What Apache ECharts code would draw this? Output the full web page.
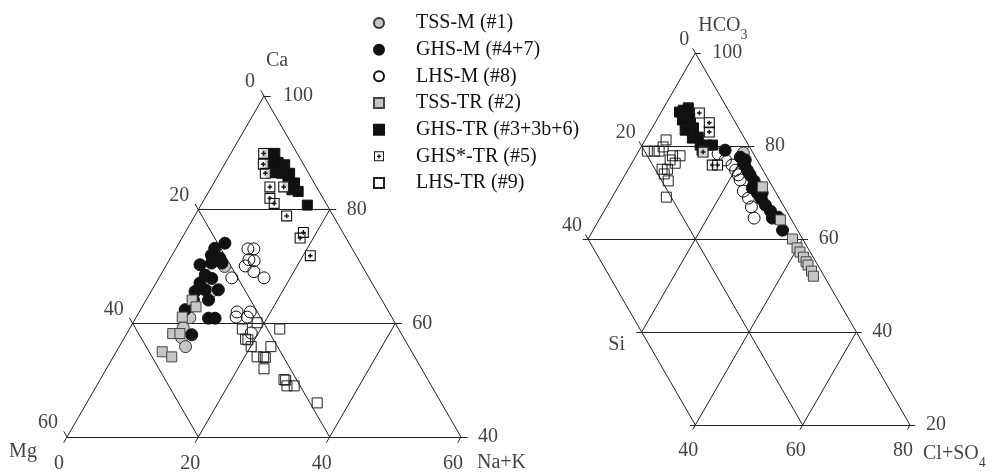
<!DOCTYPE html>
<html><head><meta charset="utf-8">
<script src="https://cdn.jsdelivr.net/npm/echarts@6/dist/echarts.min.js"></script>
<style>html,body{margin:0;padding:0;background:#fff}#c{width:993px;height:474px}</style>
</head><body><div id="c"></div>
<script>
// ---- Left diagram: [Ca, Mg, Na+K] (%) ----
const tssM_L = [[70.0,21.0,9.0],[65.4,25.5,9.1],[61.0,30.8,8.2],[59.2,32.7,8.1],[57.5,33.8,8.7],[55.9,34.0,10.1]];
const ghsM_L = [[74.1,18.9,7.0],[73.2,20.9,5.9],[72.0,22.0,6.0],[71.5,21.0,7.5],[70.3,24.6,5.1],[70.6,22.7,6.7],[70.6,21.1,8.3],[68.5,24.7,6.8],[67.9,24.0,8.1],[67.1,26.2,6.7],[65.9,24.0,10.1],[65.6,27.7,6.7],[65.9,26.0,8.1],[64.1,28.7,7.2],[64.1,26.4,9.5],[62.4,30.8,6.8],[60.9,28.0,11.1],[60.9,27.0,12.1],[58.0,32.0,10.0]];
const lhsM_L = [[73.1,15.9,11.0],[73.1,15.0,11.9],[71.2,16.7,12.1],[71.0,16.0,13.0],[70.1,17.8,12.1],[69.1,17.0,13.9],[68.0,16.0,16.0],[68.0,20.9,11.1],[62.0,23.1,14.9],[62.0,21.1,16.9],[61.1,23.7,15.2],[61.1,22.0,16.9],[58.3,22.8,18.9]];
const tssTR_L = [[64.1,28.9,7.0],[62.9,28.9,8.2],[61.1,31.9,7.0],[58.2,34.8,7.0],[58.2,33.7,8.1],[55.0,38.0,7.0],[54.1,37.0,8.9]];
const ghsTR_L = [[89.9,4.6,5.5],[89.9,3.4,6.7],[88.3,4.9,6.8],[88.3,3.7,8.0],[87.9,2.9,9.2],[86.5,5.6,7.9],[86.4,4.1,9.5],[86.4,2.9,10.7],[84.9,3.9,11.2],[84.7,3.0,12.3],[83.2,3.2,13.6],[83.5,4.0,12.5],[80.8,3.0,16.2]];
const ghsStarTR_L = [[89.9,5.1,5.0],[88.0,6.1,5.9],[86.4,6.6,7.0],[84.0,7.1,8.9],[84.0,5.0,11.0],[82.0,8.1,9.9],[81.1,7.9,11.0],[78.9,7.1,14.0],[76.0,6.0,18.0],[75.0,7.0,18.0],[71.9,7.0,21.1]];
const lhsTR_L = [[60.1,21.0,18.9],[59.0,23.8,17.2],[59.0,18.1,22.9],[57.1,23.9,19.0],[57.2,24.2,18.6],[55.9,24.0,20.1],[55.9,21.0,23.1],[54.1,24.0,21.9],[54.1,23.0,22.9],[54.0,22.8,23.2],[52.0,24.0,24.0],[50.1,21.9,28.0],[50.0,21.7,28.3],[49.0,22.0,29.0],[49.0,20.9,30.1],[46.0,18.9,35.1]];

// ---- Right diagram: [HCO3, Si, Cl+SO4] (%) ----
const tssM_R = [[78.5,1.8,19.7],[71.0,2.4,26.6]];
const ghsM_R = [[79.1,4.9,16.0],[77.6,2.8,19.6],[77.0,2.2,20.8],[75.9,2.9,21.2],[74.8,2.9,22.3],[73.8,2.9,23.3],[72.5,2.8,24.7],[71.0,3.9,25.1],[69.9,3.5,26.6],[69.9,2.6,27.5],[68.6,3.4,28.0],[67.3,3.3,29.4],[66.0,3.0,31.0],[64.5,3.4,32.1],[64.7,2.2,33.1],[61.9,2.8,35.3]];
const lhsM_R = [[78.3,6.6,15.1],[77.0,5.9,17.1],[75.9,5.2,18.9],[74.8,5.1,20.1],[73.8,5.1,21.1],[72.7,5.3,22.0],[70.3,5.9,23.8],[68.8,5.7,25.5],[66.9,6.1,27.0],[64.5,6.8,28.7]];
const tssTR_R = [[71.2,1.9,26.9],[64.1,2.1,33.8],[60.0,1.9,38.1],[58.1,2.0,39.9],[57.2,1.9,40.9],[56.1,1.8,42.1],[55.1,1.8,43.1],[54.4,1.8,43.8],[53.1,1.8,45.1],[52.0,2.0,46.0]];
const ghsTR_R = [[87.7,8.4,3.9],[88.2,7.2,4.6],[87.3,9.3,3.4],[85.6,9.6,4.8],[86.0,7.9,6.1],[83.4,10.2,6.4],[83.9,8.4,7.7],[81.7,9.7,8.6],[81.9,8.5,9.6],[80.2,9.0,10.8],[80.2,7.7,12.1],[80.2,6.7,13.1],[79.1,9.2,11.7]];
const ghsStarTR_R = [[87.1,5.7,7.2],[85.0,4.9,10.1],[83.0,5.9,11.1],[78.7,9.2,12.1],[75.9,8.9,15.2],[75.9,7.9,16.2]];
const lhsTR_R = [[78.9,19.5,1.6],[78.9,18.2,2.9],[78.9,17.3,3.8],[81.3,14.8,3.9],[79.8,16.1,4.1],[77.9,15.3,6.8],[77.9,13.9,8.2],[76.3,15.6,8.1],[77.0,16.2,6.8],[75.0,18.7,6.3],[75.0,17.7,7.3],[74.0,18.8,7.2],[72.5,18.8,8.7],[69.0,20.9,10.1]];

// ---- tick labels ----
const caTicks = [100, 80, 60, 40];
const mgTicks = [0, 20, 40, 60];
const naTicks = [0, 20, 40, 60];
const hco3Ticks = [100, 80, 60, 40, 20];
const siTicks = [0, 20, 40];
const clTicks = [40, 60, 80];

const seriesNames = ['TSS-M (#1)','GHS-M (#4+7)','LHS-M (#8)','TSS-TR (#2)','GHS-TR (#3+3b+6)','GHS*-TR (#5)','LHS-TR (#9)'];

// ---------------------------------------------------------------
const SQ = Math.sqrt(3) / 2;
const FONT = "'Liberation Serif','DejaVu Serif',serif";
function toXY(t) { const s = t[0] + t[1] + t[2]; const top = t[0] * 100 / s, right = t[2] * 100 / s; return [right + top / 2, top * SQ]; }

const STAR_PATH = 'path://M0 0L10 0L10 10L0 10Z M1 1L1 9L9 9L9 1Z M4.35 2.9L5.65 2.9L5.65 4.35L7.1 4.35L7.1 5.65L5.65 5.65L5.65 7.1L4.35 7.1L4.35 5.65L2.9 5.65L2.9 4.35L4.35 4.35Z';
const styles = [
  { symbol: 'circle', size: 12, color: '#c6c6c6', border: '#333', bw: 1 },
  { symbol: 'circle', size: 12, color: '#111', border: '#111', bw: 1 },
  { symbol: 'circle', size: 12, color: 'rgba(0,0,0,0)', border: '#111', bw: 1 },
  { symbol: 'rect', size: 10, color: '#c6c6c6', border: '#444', bw: 1 },
  { symbol: 'rect', size: 10, color: '#111', border: '#111', bw: 1 },
  { symbol: STAR_PATH, size: 11, color: '#111', border: '#111', bw: 0 },
  { symbol: 'rect', size: 10, color: 'rgba(0,0,0,0)', border: '#222', bw: 1 }
];
const leftSets = [tssM_L, ghsM_L, lhsM_L, tssTR_L, ghsTR_L, ghsStarTR_L, lhsTR_L];
const rightSets = [tssM_R, ghsM_R, lhsM_R, tssTR_R, ghsTR_R, ghsStarTR_R, lhsTR_R];

const series = [];
function addLines(g, segs) {
  series.push({
    type: 'lines', coordinateSystem: 'cartesian2d', xAxisIndex: g, yAxisIndex: g,
    data: segs.map(s => ({ coords: [toXY(s[0]), toXY(s[1])] })),
    lineStyle: { color: '#222', width: 1, opacity: 1, curveness: 0 },
    silent: true, clip: false, z: 1, animation: false
  });
}
function addMarkers(g, sets) {
  sets.forEach((arr, i) => {
    const st = styles[i];
    if (i === 5) {
      series.push({ type: 'scatter', name: 'bg' + g, xAxisIndex: g, yAxisIndex: g, data: arr.map(toXY),
        symbol: 'rect', symbolSize: 10.5, itemStyle: { color: '#fff' }, silent: true, clip: false, z: 2, animation: false });
    }
    series.push({ type: 'scatter', name: seriesNames[i], xAxisIndex: g, yAxisIndex: g, data: arr.map(toXY),
      symbol: st.symbol, symbolSize: st.size,
      itemStyle: { color: st.color, borderColor: st.border, borderWidth: st.bw, opacity: 1 },
      emphasis: { disabled: true }, silent: true, clip: false, z: 2, animation: false });
  });
}
function addLabels(g, items) {
  series.push({
    type: 'scatter', name: 'lab' + g, xAxisIndex: g, yAxisIndex: g, symbolSize: 0.01,
    itemStyle: { color: 'rgba(0,0,0,0)' }, silent: true, clip: false, z: 3, animation: false,
    label: { show: true, position: 'inside', fontFamily: FONT, fontSize: 20, color: '#111', verticalAlign: 'middle',
      formatter: p => p.data.txt,
      rich: {
        m: { fontFamily: FONT, fontSize: 20, color: '#111', lineHeight: 20, verticalAlign: 'top' },
        s: { fontFamily: FONT, fontSize: 14, color: '#111', lineHeight: 14, padding: [12, 0, 0, 0], verticalAlign: 'top' }
      } },
    data: items.map(it => ({ value: toXY(it.t), txt: it.txt, label: { align: it.align, offset: it.off } }))
  });
}

// ---- Left triangle frame (Ca >= 40) ----
const segL = [
  [[100,0,0],[40,60,0]], [[40,60,0],[40,0,60]], [[40,0,60],[100,0,0]],
  [[80,20,0],[80,0,20]], [[60,40,0],[60,0,40]],
  [[80,20,0],[40,20,40]], [[60,40,0],[40,40,20]],
  [[80,0,20],[40,40,20]], [[60,0,40],[40,20,40]]
];
caTicks.forEach(c => segL.push([[c,0,100-c],[c,-1,101-c]]));
mgTicks.forEach(m => segL.push([[100-m,m,0],[101-m,m,-1]]));
naTicks.forEach(n => segL.push([[40,60-n,n],[39,61-n,n]]));

// ---- Right triangle frame (Si <= 40, HCO3 >= 20) ----
const segR = [
  [[100,0,0],[60,40,0]], [[60,40,0],[20,40,40]], [[20,40,40],[20,0,80]], [[20,0,80],[100,0,0]],
  [[80,20,0],[80,0,20]], [[60,40,0],[60,0,40]], [[40,40,20],[40,0,60]],
  [[80,20,0],[20,20,60]],
  [[80,0,20],[40,40,20]], [[60,0,40],[20,40,40]], [[40,0,60],[20,20,60]],
  [[60,40,0],[60,41,-1]], [[40,40,20],[40,41,19]], [[20,40,40],[20,41,39]]
];
hco3Ticks.forEach(h => segR.push([[h,0,100-h],[h,-1,101-h]]));
siTicks.forEach(s => segR.push([[100-s,s,0],[101-s,s,-1]]));
clTicks.forEach(c => segR.push([[20,80-c,c],[19,81-c,c]]));

addLines(0, segL);
addLines(1, segR);
addMarkers(0, leftSets);
addMarkers(1, rightSets);

const labL = [];
caTicks.forEach(c => labL.push({ t: [c,0,100-c], txt: String(c), align: 'left', off: [c === 100 ? 19 : 17, 0] }));
mgTicks.forEach(m => labL.push({ t: [100-m,m,0], txt: String(m), align: 'right', off: [-9, -14] }));
naTicks.forEach(n => labL.push({ t: [40,60-n,n], txt: String(n), align: 'center', off: [-8, 27] }));
labL.push({ t: [100,0,0], txt: 'Ca', align: 'center', off: [13, -35] });
labL.push({ t: [40,60,0], txt: 'Mg', align: 'center', off: [-44, 15] });
labL.push({ t: [40,0,60], txt: 'Na+K', align: 'left', off: [16, 26] });

const labR = [];
hco3Ticks.forEach(h => labR.push({ t: [h,0,100-h], txt: String(h), align: 'left', off: [h === 100 ? 17 : 16, 0] }));
siTicks.forEach(s => labR.push({ t: [100-s,s,0], txt: String(s), align: 'right', off: [-6, -13] }));
clTicks.forEach(c => labR.push({ t: [20,80-c,c], txt: String(c), align: 'center', off: [-7, 26] }));
labR.push({ t: [100,0,0], txt: '{m|HCO}{s|3}', align: 'left', off: [3, -27] });
labR.push({ t: [40,40,20], txt: 'Si', align: 'center', off: [-25, 13] });
labR.push({ t: [20,0,80], txt: '{m|Cl+SO}{s|4}', align: 'left', off: [13, 29] });

addLabels(0, labL);
addLabels(1, labR);

const chart = echarts.init(document.getElementById('c'), null, { renderer: 'canvas' });
chart.setOption({
  animation: false,
  backgroundColor: '#fff',
  grid: [
    { left: 67, top: 96, width: 394, height: 341 },
    { left: 588, top: 53, width: 322, height: 372 }
  ],
  xAxis: [
    { gridIndex: 0, type: 'value', min: 20, max: 80, show: false },
    { gridIndex: 1, type: 'value', min: 30, max: 90, show: false }
  ],
  yAxis: [
    { gridIndex: 0, type: 'value', min: 40 * SQ, max: 100 * SQ, show: false },
    { gridIndex: 1, type: 'value', min: 20 * SQ, max: 100 * SQ, show: false }
  ],
  legend: {
    data: seriesNames, orient: 'vertical', left: 373, top: 13, padding: 0,
    itemWidth: 10, itemHeight: 10, itemGap: 6.67, selectedMode: false,
    textStyle: { fontFamily: FONT, fontSize: 20, color: '#111', lineHeight: 20, padding: [0, 0, 0, 27] }
  },
  series: series
});
</script></body></html>
